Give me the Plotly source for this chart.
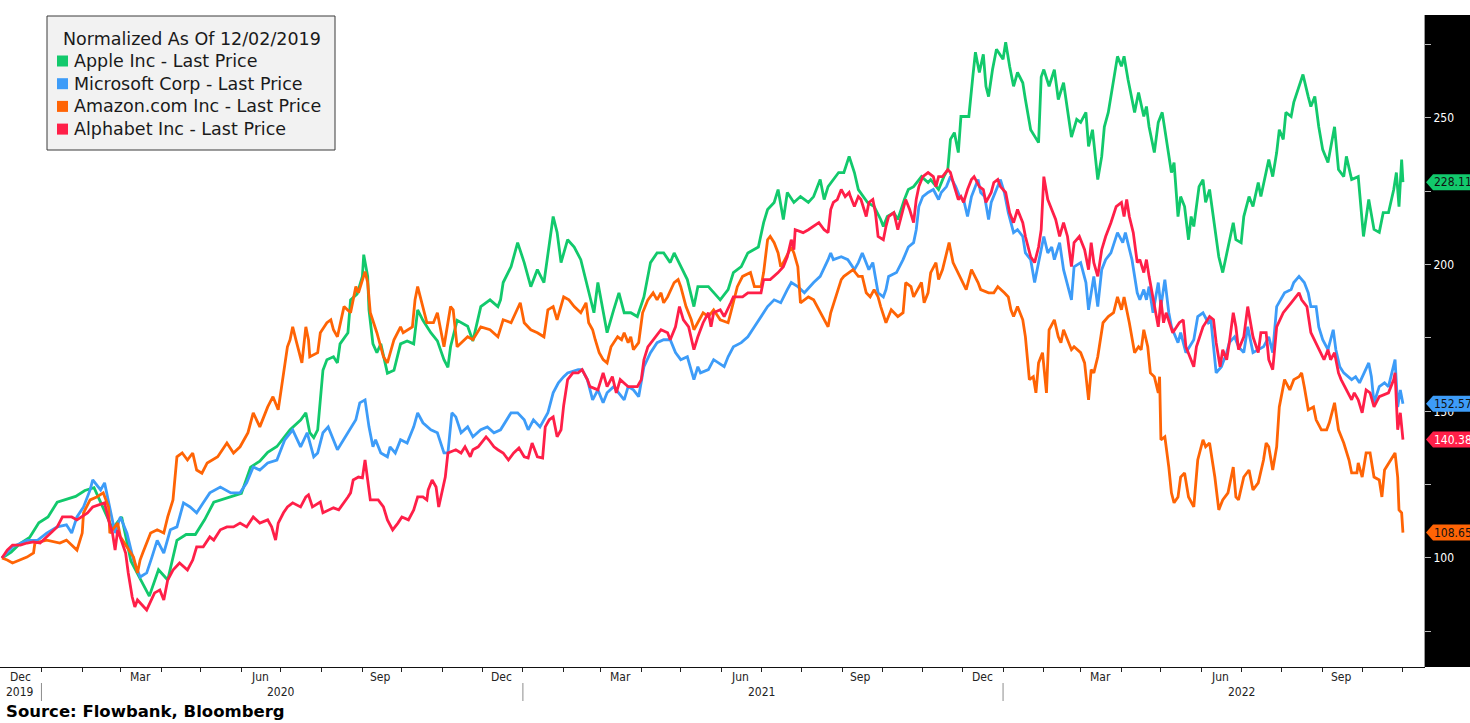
import pandas as pd
import plotly.graph_objects as go

# Normalized prices (12/02/2019 = 100); day = days since 2019-12-02
start = pd.Timestamp("2019-12-02")

apple_day = [
    0, 7, 14, 21, 28, 35, 42, 49, 56, 63,
    70, 77, 84, 91, 98, 105, 112, 119, 126, 133,
    140, 147, 154, 161, 168, 175, 182, 189, 196, 202,
    209, 219, 227, 231, 234, 237, 240, 244, 247, 252,
    255, 257, 263, 265, 270, 274, 275, 278, 279, 282,
    285, 288, 293, 298, 303, 308, 313, 316, 320, 326,
    331, 336, 339, 341, 346, 354, 358, 364, 371, 377,
    379, 381, 387, 392, 397, 402, 407, 412, 417, 419,
    422, 425, 430, 435, 440, 445, 450, 453, 457, 460,
    465, 469, 473, 478, 483, 488, 493, 498, 503, 508,
    511, 516, 521, 526, 529, 537, 546, 552, 556, 562,
    567, 575, 579, 582, 587, 590, 594, 597, 602, 607,
    613, 617, 622, 625, 628, 636, 640, 644, 648, 651,
    658, 663, 668, 670, 673, 678, 681, 686, 689, 693,
    699, 704, 706, 712, 716, 719, 721, 724, 727, 729,
    735, 738, 740, 743, 746, 748, 750, 753, 756, 761,
    763, 766, 769, 772, 776, 778, 782, 788, 790, 792,
    796, 800, 803, 807, 810, 813, 817, 820, 824, 826,
    829, 833, 836, 838, 841, 845, 848, 851, 853, 856,
    857, 861, 864, 868, 870, 872, 876, 879, 882, 887,
    889, 891, 894, 896, 899, 902, 904, 906, 910, 913,
    915, 918, 922, 925, 928, 932, 936, 938, 942, 944,
    948, 951, 955, 957, 963, 966, 969, 971, 974, 976,
    980, 982, 986, 989, 993, 995, 998, 1001, 1004, 1008,
    1013, 1016, 1020, 1022, 1026, 1031, 1035, 1039, 1043, 1047,
    1050, 1054, 1058, 1060, 1062, 1064, 1065]
apple_val = [
    100, 102, 105, 107, 112, 114, 119, 120, 121, 123,
    124, 117, 110, 114, 99, 93, 87, 96, 92.5, 106,
    108, 108, 113, 119, 120, 121, 122, 131, 133, 136,
    138, 143.7, 147, 149.5, 142.7, 141, 143.7, 164, 167.6, 168.6,
    166.5, 173, 176.8, 188, 190, 196, 203.4, 196, 184.6, 173,
    170, 173, 163, 164, 173, 174, 173, 184.6, 181, 176.8,
    174, 167.6, 165, 172, 181, 179, 174, 185.7, 188, 185.7,
    188, 193.9, 199.3, 207.5, 200.7, 192.5, 198.3, 193.9, 209.6, 216.4,
    211, 200.7, 208.5, 206, 201.7, 192.5, 183.6, 193.9, 183.6, 176.8,
    184.6, 190.4, 183.6, 183.6, 182.3, 189, 200.7, 204, 204, 200.7,
    204, 199.3, 194.9, 185.7, 192.5, 192.5, 188, 191.5, 197.3, 199.3,
    204, 206, 214.3, 218.8, 221.2, 225.6, 215.4, 224.6, 221.2, 223.2,
    221.2, 223.2, 229, 222.2, 226.6, 231.4, 231.4, 236.9, 231.4, 225.6,
    221.2, 219.8, 215.4, 213, 216.4, 217.7, 215.4, 222.2, 225.6, 226.6,
    230, 228, 229, 225.6, 230, 232.4, 242.7, 245, 238.2, 250.5,
    250.5, 264, 272.4, 265.5, 271.7, 260.8, 257.3, 266.5, 273.4, 270,
    275.8, 267.6, 260.8, 265.5, 262, 256.3, 246, 241.6, 264, 266.5,
    260.8, 266.5, 256.3, 262, 251.9, 243.5, 249.5, 248.5, 251.9, 240.3,
    246, 229, 236.9, 247, 251.9, 263.1, 271, 267.6, 271, 263.1,
    260.8, 251.9, 258.7, 250.5, 253.9, 247, 238.2, 248.5, 251.9, 238.2,
    231.4, 234.8, 216.4, 223.2, 219.8, 208.5, 216.4, 213, 226.6, 229,
    221.2, 225.6, 213, 202.7, 197.3, 206, 214.3, 208.5, 207.5, 216.4,
    223.2, 219.8, 228, 223.2, 235.8, 230, 238.2, 246, 242.7, 251.9,
    250.5, 255.3, 260.8, 264.8, 257.3, 253.9, 257.3, 247, 239.2, 234.8,
    247, 232.4, 230, 236.9, 229, 230, 209.6, 222.2, 212, 211,
    217.7, 217.7, 225.6, 231.4, 219.8, 235.8, 228.11]

msft_day = [
    0, 8, 19, 27, 34, 42, 49, 53, 57, 62,
    67, 69, 75, 78, 86, 90, 95, 100, 105, 110,
    114, 118, 123, 128, 133, 138, 143, 148, 153, 158,
    166, 174, 181, 186, 191, 196, 202, 209, 215, 219,
    221, 227, 232, 237, 240, 244, 248, 255, 263, 269,
    272, 276, 279, 282, 284, 288, 293, 295, 299, 303,
    308, 313, 316, 320, 326, 331, 336, 339, 342, 345,
    349, 354, 358, 364, 369, 374, 379, 387, 392, 397,
    400, 404, 409, 415, 419, 423, 427, 430, 438, 441,
    445, 449, 453, 457, 460, 465, 473, 476, 480, 484,
    488, 493, 498, 503, 508, 512, 516, 521, 526, 529,
    531, 537, 541, 549, 552, 556, 562, 567, 572, 577,
    582, 587, 592, 597, 600, 605, 610, 617, 622, 628,
    630, 632, 638, 643, 648, 651, 654, 659, 662, 666,
    670, 672, 674, 680, 685, 689, 693, 695, 697, 700,
    704, 708, 712, 714, 718, 721, 725, 728, 731, 734,
    737, 742, 744, 747, 750, 752, 757, 759, 762, 765,
    769, 772, 776, 778, 782, 785, 788, 792, 795, 798,
    800, 804, 807, 813, 815, 820, 824, 826, 830, 833,
    836, 839, 843, 848, 852, 854, 859, 863, 865, 868,
    870, 872, 875, 879, 881, 884, 887, 889, 894, 896,
    900, 906, 909, 913, 917, 919, 923, 927, 931, 933,
    937, 940, 944, 947, 951, 955, 959, 963, 966, 969,
    975, 980, 982, 986, 990, 993, 995, 999, 1001, 1004,
    1008, 1012, 1014, 1017, 1020, 1026, 1029, 1032, 1039, 1041,
    1043, 1047, 1051, 1054, 1058, 1059, 1061, 1063, 1065]
msft_val = [
    100, 103.8, 106, 106, 108.5, 110.6, 111.3, 108.5, 114, 117.4,
    123.2, 126.6, 123.2, 125.6, 108.5, 114, 108.5, 99.3, 93.5, 94.9,
    100.3, 106, 101.7, 109.6, 110.6, 118.8, 117.4, 115.4, 118.8, 122.2,
    124.2, 122.2, 122.2, 125.6, 131, 130, 132.4, 133.4, 140.3, 142.7,
    143.7, 137.9, 142.7, 134.5, 135.8, 142.7, 144.7, 136.9, 142.7, 147.1,
    152.9, 153.9, 144.7, 137.9, 140.3, 135.8, 134.5, 137.9, 135.8, 140.3,
    139.2, 144.7, 149.5, 146.1, 143.7, 142.7, 135.8, 135.8, 149.5, 148.1,
    142.7, 144.7, 141.3, 143.7, 144.7, 142.7, 143.7, 149.5, 149.5, 147.1,
    143.7, 147.1, 144.7, 149.5, 156.3, 159.7, 161.8, 163.1, 164.2, 164.2,
    160.8, 153.9, 157.3, 152.9, 156.3, 158.4, 153.9, 158.4, 157.3, 155,
    165.2, 170, 173.4, 174.4, 174.4, 170, 167.6, 168.6, 160.8, 165.2,
    163.1, 164.2, 167.6, 165.2, 168.6, 172, 173.4, 175.4, 178.8, 182.3,
    185.7, 188, 187, 191.5, 193.9, 192.5, 190.4, 193.9, 196, 201.7,
    204, 201.7, 202.7, 201.7, 198.3, 200.7, 204, 198.3, 200.7, 190.4,
    189, 191.5, 196, 197.3, 201.7, 206, 207.5, 211.9, 219.8, 223.2,
    224.6, 225.6, 222.2, 224.6, 226.6, 230, 226.6, 223.2, 222.2, 216.4,
    223.2, 229, 224.6, 223.2, 215.4, 221.2, 226.6, 229, 224.6, 217.7,
    210.9, 211.9, 209.6, 204, 201.7, 193.9, 200.7, 209.6, 204, 206,
    201.7, 207.5, 198.3, 188, 199.3, 200.7, 193.9, 184.6, 196, 185.7,
    198.3, 201.7, 204, 210.9, 207.5, 210.9, 201.7, 190.4, 188, 191.5,
    188, 192.5, 183.6, 193.9, 185.7, 194.9, 183.6, 178.8, 173.4, 176.8,
    170, 174.4, 182.3, 183.6, 180.2, 181.2, 163.1, 165.2, 170, 173.4,
    175.4, 172, 170, 178.8, 170, 171, 172, 175.4, 170, 185.7,
    190.4, 191.5, 193.9, 196, 193.9, 190.4, 185.7, 185.7, 178.8, 174.4,
    171, 177.8, 171, 165.2, 163.1, 160.8, 161.8, 159.7, 166.5, 161.8,
    152.9, 158.4, 159.7, 158.4, 165.2, 167.6, 151.5, 157.3, 152.57]

amzn_day = [
    0, 4, 8, 14, 19, 24, 25, 34, 44, 49,
    54, 57, 61, 62, 67, 72, 77, 81, 82, 88,
    90, 95, 100, 103, 105, 107, 113, 118, 123, 126,
    130, 133, 137, 141, 145, 148, 152, 156, 164, 171,
    176, 181, 187, 191, 196, 202, 206, 210, 214, 217,
    219, 221, 224, 228, 231, 233, 234, 240, 242, 247,
    250, 252, 255, 260, 265, 269, 271, 276, 278, 280,
    285, 290, 293, 298, 303, 305, 312, 314, 316, 318,
    323, 328, 331, 336, 339, 341, 343, 346, 354, 358,
    364, 371, 377, 381, 387, 394, 397, 402, 407, 412,
    415, 419, 422, 427, 431, 435, 440, 444, 446, 449,
    451, 454, 457, 460, 463, 468, 471, 473, 476, 478,
    480, 484, 487, 491, 495, 498, 501, 503, 506, 511,
    514, 516, 520, 524, 526, 529, 533, 537, 541, 546,
    552, 554, 556, 559, 563, 569, 572, 577, 579, 582,
    584, 587, 590, 592, 594, 600, 602, 605, 607, 613,
    617, 622, 628, 630, 635, 638, 640, 647, 651, 654,
    657, 660, 663, 666, 668, 672, 676, 681, 685, 687,
    691, 693, 699, 701, 704, 706, 710, 712, 715, 719,
    720, 723, 728, 733, 737, 742, 744, 750, 754, 757,
    762, 765, 767, 769, 772, 776, 778, 781, 784, 786,
    788, 791, 794, 796, 800, 803, 805, 807, 813, 815,
    820, 823, 826, 828, 830, 833, 837, 841, 845, 848,
    851, 853, 857, 861, 864, 866, 868, 871, 873, 876,
    879, 880, 881, 884, 887, 889, 891, 894, 896, 899,
    902, 906, 909, 913, 915, 918, 922, 925, 928, 932,
    936, 938, 940, 944, 948, 951, 955, 959, 961, 963,
    966, 969, 971, 975, 979, 982, 986, 988, 990, 993,
    997, 999, 1003, 1007, 1009, 1013, 1016, 1020, 1024, 1026,
    1030, 1031, 1034, 1037, 1040, 1043, 1047, 1049, 1051, 1057,
    1059, 1061, 1062, 1064, 1065]
amzn_val = [
    100, 99.3, 98.3, 99.3, 100.3, 101.7, 105.1, 106.1, 105.1, 106.1,
    103.8, 102.7, 108.5, 115.4, 119.8, 120.8, 122.2, 117.4, 108.5, 111.9,
    107.2, 103.8, 100.3, 94.9, 99.3, 101.7, 108.5, 109.6, 108.5, 114,
    119.8, 134.5, 135.8, 133.4, 135.8, 130, 128.9, 132.4, 134.5, 139.2,
    135.8, 137.9, 142.7, 149.5, 144.7, 151.5, 155, 150.5, 163.1, 172,
    174.4, 178.8, 173.4, 166.5, 178.8, 174.4, 168.6, 170, 176.8, 180.2,
    181.2, 177.8, 175.4, 185.7, 183.6, 192.5, 190.4, 197.6, 193.9, 183.6,
    176.8, 168.6, 166.5, 174.4, 178.8, 176.8, 178.8, 188, 192.5, 189,
    180.2, 180.2, 183.6, 172, 180.2, 185.7, 184.6, 172, 175.4, 174.4,
    178.8, 177.8, 175.4, 181.2, 180.2, 187, 180.2, 177.8, 176.8, 175.4,
    184.6, 185.7, 181.2, 189, 188, 185.7, 183.6, 187, 180.2, 177.8,
    174.4, 170, 167.6, 166.5, 172, 175.4, 174.4, 176.8, 173.4, 175.4,
    171, 173.4, 183.6, 188, 190.4, 188, 190.4, 187, 189, 193.9,
    194.9, 192.5, 185.7, 181.2, 177.8, 180.2, 183.6, 182.3, 184.6, 181.2,
    180.2, 183.6, 187, 192.5, 196, 197.3, 192.5, 192.5, 197.3, 208.5,
    209.6, 207.5, 204, 199.3, 200.7, 206, 204, 199.3, 187, 189,
    188, 183.6, 178.8, 183.6, 190.4, 194.9, 196, 198.3, 196, 196,
    190.4, 189, 191.5, 189, 185.7, 180.2, 184.6, 182.3, 183.6, 193.9,
    192.5, 189, 193.9, 187, 190.4, 197.3, 200.7, 194.9, 198.3, 206,
    207.5, 200.7, 196, 191.5, 198.3, 193.9, 191.5, 190.4, 190.4, 192.5,
    190.4, 189, 184.6, 182.3, 185.7, 181.2, 175.4, 160.8, 161.8, 156.3,
    166.5, 170, 156.3, 177.8, 181.2, 175.4, 173.4, 177.8, 171, 172,
    170, 166.5, 153.9, 164.2, 163.1, 168.6, 180.2, 182.3, 183.6, 189,
    184.6, 189, 180.2, 170, 172, 171, 177.8, 172, 163.1, 161.8,
    156.3, 161.8, 140.3, 141.3, 131, 122.2, 118.8, 120.8, 127.6, 129,
    120.8, 117.4, 133.4, 140.3, 137.9, 139.2, 127.6, 116.4, 119.8, 122.2,
    131, 120.8, 119.8, 127.6, 130, 123.2, 125.6, 133.4, 139.2, 137.9,
    130, 137.9, 151.5, 160.8, 157.3, 160.8, 161.8, 163.1, 158.4, 150.5,
    151.5, 147.1, 143.7, 143.7, 146.1, 152.9, 143.7, 139.2, 133.4, 129,
    129, 132.4, 127.6, 135.8, 135.8, 127.6, 126.6, 120.8, 130, 134.5,
    135.8, 127.6, 116.4, 115.4, 108.65]

googl_day = [
    0, 4, 8, 14, 19, 24, 29, 37, 42, 46,
    53, 57, 65, 69, 78, 81, 84, 86, 88, 94,
    96, 99, 101, 103, 110, 116, 120, 123, 126, 130,
    135, 141, 145, 148, 153, 158, 161, 166, 171, 176,
    181, 186, 191, 196, 202, 205, 208, 210, 214, 217,
    221, 227, 231, 233, 236, 242, 244, 252, 256, 263,
    265, 267, 271, 274, 276, 278, 280, 286, 290, 293,
    297, 301, 304, 309, 313, 316, 320, 323, 324, 327,
    330, 332, 335, 337, 339, 345, 349, 352, 356, 358,
    362, 368, 370, 374, 377, 381, 385, 389, 393, 397,
    400, 403, 407, 411, 413, 416, 419, 422, 425, 427,
    430, 434, 438, 441, 445, 447, 453, 457, 460, 464,
    467, 470, 476, 483, 486, 488, 491, 497, 501, 506,
    508, 512, 515, 518, 522, 526, 529, 533, 537, 539,
    541, 546, 549, 554, 556, 563, 567, 577, 579, 584,
    590, 594, 597, 600, 602, 603, 609, 613, 617, 621,
    625, 628, 630, 632, 635, 638, 641, 644, 645, 648,
    651, 653, 657, 659, 662, 664, 666, 670, 672, 674,
    678, 681, 685, 687, 690, 693, 695, 697, 700, 704,
    708, 710, 712, 715, 719, 721, 724, 727, 729, 731,
    734, 737, 739, 743, 746, 748, 752, 754, 757, 759,
    763, 766, 769, 772, 776, 778, 782, 785, 788, 790,
    792, 795, 798, 801, 804, 807, 810, 813, 815, 819,
    823, 826, 828, 830, 833, 836, 839, 843, 847, 851,
    853, 855, 857, 860, 863, 865, 868, 870, 872, 875,
    879, 881, 883, 885, 890, 895, 898, 900, 906, 908,
    913, 918, 921, 923, 926, 928, 931, 933, 936, 938,
    940, 944, 947, 951, 955, 957, 961, 963, 966, 969,
    974, 980, 986, 988, 992, 995, 1001, 1005, 1008, 1010,
    1013, 1016, 1018, 1022, 1026, 1028, 1031, 1034, 1037, 1040,
    1043, 1047, 1054, 1058, 1059, 1061, 1063, 1065]
googl_val = [
    100, 102.7, 104.4, 104.4, 105.1, 105.5, 105.1, 108.5, 110.6, 114,
    114, 113, 115.4, 117.4, 118.8, 113, 108.5, 102.7, 109.6, 101.7,
    94.9, 86.7, 83.3, 85.7, 82.3, 88.1, 89.1, 85.7, 92.5, 95.9,
    98.3, 95.9, 99.3, 103.8, 103.8, 107.2, 106.1, 109.6, 110.6, 110.6,
    111.9, 110.6, 114, 111.9, 113, 110.6, 106.1, 111.9, 115.4, 117.4,
    118.8, 117.4, 120.8, 121.5, 117.4, 119.1, 115.4, 117.1, 116.4, 120.8,
    122.2, 126.6, 127.6, 127.3, 133.4, 126.6, 119.8, 119.8, 117.4, 113,
    109.6, 111.9, 114, 113, 116.4, 120.8, 120.8, 119.8, 123.2, 126.6,
    124.2, 117.4, 124.2, 127.6, 135.8, 136.9, 135.8, 137.9, 134.5, 136.9,
    137.9, 141.3, 140.3, 137.9, 136.9, 135.8, 133.4, 135.8, 137.5, 134.5,
    134.1, 139.2, 134.5, 134.1, 144.7, 147.1, 148.1, 141.3, 143.7, 152,
    160.8, 163.1, 163.1, 164.2, 160.8, 158.4, 157.3, 163.1, 158.4, 161.8,
    156.3, 160.8, 158.4, 158.4, 160.8, 167.6, 172, 175.4, 177.8, 176.8,
    174.4, 178.8, 185.7, 181.2, 178.8, 171, 175.4, 180.2, 183.6, 178.8,
    183.6, 184.6, 182.3, 187, 189, 189, 190.4, 190.4, 194.9, 194.9,
    197.3, 199.3, 202.7, 208.5, 205.1, 211.9, 210.9, 211.9, 213, 214.3,
    211.9, 210.9, 218.8, 221.2, 222.2, 225.6, 223.2, 224.6, 223.2, 219.8,
    223.2, 222.2, 216.4, 221.2, 222.2, 217.7, 209.6, 208.5, 213, 216.4,
    217.7, 211.9, 218.8, 222.2, 218.8, 214.3, 222.2, 226.6, 230, 231.4,
    230, 226.6, 230, 230, 232.4, 231.4, 226.6, 222.2, 223.2, 221.2,
    225.6, 229, 230, 226.6, 225.6, 221.2, 224.6, 228, 229, 226.6,
    224.6, 217.7, 214.3, 218.8, 214.3, 209.6, 202.7, 200.7, 206, 211.9,
    230, 222.2, 218.8, 215.4, 209.6, 214.3, 209.6, 199.3, 207.5, 209.6,
    205.1, 198.3, 207.5, 200.7, 196, 205.1, 209.6, 214.3, 219.8, 221.2,
    216.4, 222.2, 216.4, 210.9, 200.7, 201.7, 197.3, 201.7, 196, 188,
    178.8, 188, 180.2, 183.6, 176.8, 180.2, 181.2, 172, 165.2, 172,
    178.8, 182.3, 181.2, 173.4, 165.2, 171, 167.6, 173.4, 183.6, 178.8,
    171, 175.4, 185.7, 175.4, 170, 176.8, 176.8, 167.6, 164.2, 178.8,
    183.6, 187, 190.4, 188, 185.7, 176.8, 171, 167.6, 171, 167.6,
    170, 163.1, 160.8, 157.3, 153.9, 156.3, 153.9, 149.5, 157.3, 156.3,
    151.5, 155, 156.3, 160.8, 163.1, 143.7, 149.5, 140.38]

series_names = ["Apple Inc - Last Price", "Microsoft Corp - Last Price",
                "Amazon.com Inc - Last Price", "Alphabet Inc - Last Price"]
series_colors = ["#12c96c", "#3d9cf8", "#ff6405", "#ff1f48"]
tag_text_colors = ["#111111", "#111111", "#111111", "#ffffff"]

month_labels = ["Dec", "Mar", "Jun", "Sep", "Dec", "Mar", "Jun", "Sep",
                "Dec", "Mar", "Jun", "Sep"]
month_label_dates = ["2019-12-16", "2020-03-16", "2020-06-15", "2020-09-15",
                     "2020-12-16", "2021-03-16", "2021-06-15", "2021-09-15",
                     "2021-12-16", "2022-03-16", "2022-06-15", "2022-09-15"]
year_labels = ["2019", "2020", "2021", "2022"]
year_label_dates = ["2019-12-16", "2020-07-01", "2021-07-01", "2022-07-01"]
year_starts = ["2020-01-01", "2021-01-01", "2022-01-01"]

days = [apple_day, msft_day, amzn_day, googl_day]
vals = [apple_val, msft_val, amzn_val, googl_val]
for d, v in zip(days, vals):
    assert len(d) == len(v), (len(d), len(v))

# figure geometry (pixels)
W, H = 1470, 723
ML, MR, MT, MB = 0, 46, 15, 56
PW, PH = W - ML - MR, H - MT - MB


def px(x):
    return (x - ML) / PW


def py(y):
    return (H - MB - y) / PH


FONT = "DejaVu Sans, Verdana, sans-serif"
COND = "DejaVu Sans Condensed, DejaVu Sans, sans-serif"

fig = go.Figure()
for d, v, name, color in zip(days, vals, series_names, series_colors):
    fig.add_trace(go.Scatter(
        x=[start + pd.Timedelta(days=int(k)) for k in d],
        y=v,
        mode="lines",
        name=name,
        line=dict(color=color, width=2.8),
        showlegend=False,
        hoverinfo="skip",
    ))

shapes = []
annotations = []

# black strip behind the right-hand value axis
shapes.append(dict(type="rect", xref="paper", yref="paper", x0=1, x1=px(W) + 0.01,
                   y0=0, y1=1, fillcolor="black", line=dict(width=0), layer="below"))

# last-value tags
for v, color, tcolor in zip(vals, series_colors, tag_text_colors):
    last = v[-1]
    shapes.append(dict(type="path", xref="paper", yref="y", xsizemode="pixel",
                       ysizemode="pixel", xanchor=1, yanchor=last,
                       path="M2,0 L9,8 L60,8 L60,-8 L9,-8 Z",
                       fillcolor=color, line=dict(width=0), layer="above"))
    annotations.append(dict(xref="paper", yref="y", x=1, y=last, xanchor="left",
                            yanchor="middle", xshift=8, text=f"{last:.2f}",
                            showarrow=False,
                            font=dict(family=COND, size=12, color=tcolor)))

# legend box drawn by hand (square colour keys)
shapes.append(dict(type="rect", xref="paper", yref="paper", x0=px(47), x1=px(335),
                   y0=py(150), y1=py(16), fillcolor="#f2f2f2",
                   line=dict(color="#3a3a3a", width=1), layer="above"))
annotations.append(dict(xref="paper", yref="paper", x=px(61), y=py(39),
                        xanchor="left", yanchor="middle", showarrow=False,
                        text="Normalized As Of 12/02/2019",
                        font=dict(family=FONT, size=17.5, color="#1a1a1a")))
for i, (name, color) in enumerate(zip(series_names, series_colors)):
    yc = 61 + i * 22.7
    shapes.append(dict(type="rect", xref="paper", yref="paper", x0=px(57), x1=px(68),
                       y0=py(yc + 5.5), y1=py(yc - 5.5), fillcolor=color,
                       line=dict(width=0), layer="above"))
    annotations.append(dict(xref="paper", yref="paper", x=px(72), y=py(yc),
                            xanchor="left", yanchor="middle", showarrow=False,
                            text=name,
                            font=dict(family=FONT, size=17.5, color="#1a1a1a")))

# month and year labels under the time axis
for lab, dt in zip(month_labels, month_label_dates):
    annotations.append(dict(xref="x", yref="paper", x=dt, y=py(677), text=lab,
                            showarrow=False, xanchor="center", yanchor="middle",
                            font=dict(family=COND, size=12, color="#222222")))
for lab, dt in zip(year_labels, year_label_dates):
    annotations.append(dict(xref="x", yref="paper", x=dt, y=py(692), text=lab,
                            showarrow=False, xanchor="center", yanchor="middle",
                            font=dict(family=COND, size=12, color="#222222")))
for dt in year_starts:
    shapes.append(dict(type="line", xref="x", yref="paper", x0=dt, x1=dt,
                       y0=py(683), y1=py(701), line=dict(color="#8c8c8c", width=1)))

annotations.append(dict(xref="paper", yref="paper", x=px(4), y=py(711),
                        xanchor="left", yanchor="middle", showarrow=False,
                        text="<b>Source: Flowbank, Bloomberg</b>",
                        font=dict(family=FONT, size=16.5, color="#000000")))

month_ticks = pd.date_range("2020-01-01", "2022-11-01", freq="MS")

fig.update_layout(
    width=W, height=H,
    margin=dict(l=ML, r=MR, t=MT, b=MB, pad=0),
    paper_bgcolor="white",
    plot_bgcolor="white",
    showlegend=False,
    shapes=shapes,
    annotations=annotations,
    xaxis=dict(
        type="date",
        range=["2019-11-30 12:00", "2022-11-17"],
        tickvals=list(month_ticks),
        ticks="outside", ticklen=4, tickcolor="#222222", tickwidth=1,
        showticklabels=False,
        showline=True, linecolor="#111111", linewidth=1,
        showgrid=False, zeroline=False,
    ),
    yaxis=dict(
        side="right",
        range=[62.84, 285.1],
        tickvals=[100, 150, 200, 250],
        ticks="outside", ticklen=6, tickcolor="#bbbbbb", tickwidth=1,
        tickfont=dict(family=COND, size=12, color="white"),
        minor=dict(tickvals=[75, 125, 175, 225, 275], ticks="outside", ticklen=6,
                   tickcolor="#bbbbbb", tickwidth=1),
        showline=True, linecolor="#9a9a9a", linewidth=1,
        showgrid=False, zeroline=False,
    ),
)

fig.write_html("out.html",
               config={"displayModeBar": False},
               post_script="document.body.style.margin='0';"
                           "document.body.style.overflow='hidden';")
